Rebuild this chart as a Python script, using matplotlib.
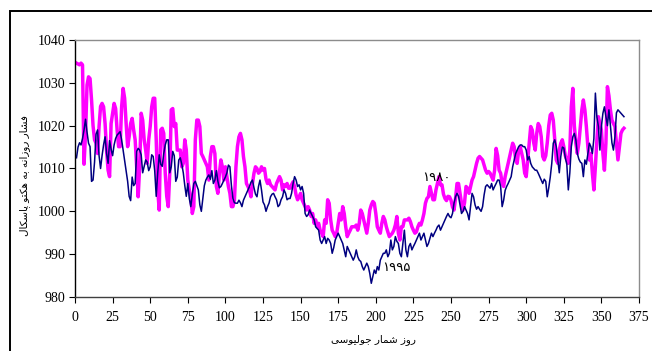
import numpy as np
import matplotlib
matplotlib.use("Agg")
import matplotlib.pyplot as plt
from matplotlib.patches import Rectangle

# daily mean pressure (hPa), day 1..365
p1980 = [
    1034.6, 1034.4, 1034.2, 1034.6, 1034.2, 1011.0, 1018.0, 1029.5, 1031.4, 1031.0,
    1026.0, 1020.0, 1016.7, 1015.9, 1013.5, 1019.8, 1024.5, 1025.2, 1024.4, 1020.5,
    1014.3, 1009.6, 1008.1, 1020.5, 1022.9, 1025.2, 1024.0, 1019.0, 1015.1, 1015.1,
    1024.4, 1028.7, 1026.4, 1020.5, 1015.1, 1017.4, 1020.5, 1021.7, 1019.0, 1016.7,
    1010.4, 1003.4, 1010.4, 1022.9, 1021.3, 1016.7, 1014.3, 1011.2, 1016.7, 1019.8,
    1024.4, 1026.4, 1026.4, 1016.7, 1005.0, 1000.3, 1019.0, 1019.4, 1018.2, 1008.9,
    1003.5, 1001.1, 1008.9, 1023.7, 1024.0, 1019.8, 1020.5, 1014.3, 1014.3, 1014.3,
    1010.4, 1011.2, 1016.7, 1014.3, 1007.3, 1005.0, 1003.4, 999.5, 1001.1, 1016.7,
    1021.3, 1021.3, 1019.8, 1013.5, 1012.8, 1012.0, 1011.2, 1010.4, 1007.3, 1012.8,
    1015.1, 1015.1, 1013.5, 1005.8, 1004.2, 1008.9, 1012.0, 1010.4, 1007.3, 1010.4,
    1008.1, 1005.8, 1004.2, 1001.1, 1001.1, 1002.6, 1010.4, 1015.1, 1017.4, 1018.2,
    1016.7, 1012.8, 1010.4, 1006.5, 1005.8, 1005.0, 1003.4, 1006.5, 1008.9, 1010.4,
    1010.0, 1008.9, 1009.3, 1010.4, 1009.6, 1010.0, 1007.5, 1006.5, 1007.3, 1006.2,
    1005.8, 1005.4, 1005.0, 1006.5, 1007.3, 1008.1, 1007.3, 1005.0, 1006.2, 1005.8,
    1006.5, 1005.4, 1005.4, 1006.2, 1006.9, 1005.8, 1003.8, 1002.7, 1003.4, 1004.2,
    1002.7, 1001.9, 1001.1, 1000.3, 1001.1, 1000.3, 998.8, 999.5, 997.2, 998.0,
    996.4, 997.2, 995.6, 994.9, 994.1, 998.0, 997.2, 1002.7, 1001.9, 998.0,
    995.6, 994.9, 994.1, 994.9, 997.2, 999.5, 998.0, 1001.1, 999.5, 996.4,
    994.1, 994.9, 995.6, 996.4, 996.4, 996.4, 996.8, 995.6, 997.2, 1000.3,
    999.5, 998.0, 996.4, 994.9, 997.2, 1000.3, 1001.5, 1002.3, 1001.9, 999.5,
    996.4, 995.6, 994.9, 997.2, 998.8, 998.0, 996.4, 995.2, 994.1, 994.5,
    994.9, 995.6, 996.8, 998.8, 994.9, 993.3, 996.4, 996.4, 998.0, 998.0,
    998.0, 998.4, 997.6, 996.4, 995.6, 994.9, 995.2, 996.4, 997.2, 996.8,
    998.0, 999.5, 1001.9, 1003.0, 1003.4, 1005.8, 1004.2, 1002.7, 1002.7, 1005.0,
    1006.5, 1008.1, 1006.2, 1006.2, 1004.0, 1003.0, 1002.5, 1003.5, 1003.4, 1002.6,
    1001.0, 1000.3, 1003.0, 1006.5, 1006.5, 1004.2, 1001.9, 1000.3, 1002.0, 1005.8,
    1005.4, 1004.2, 1005.8, 1007.3, 1008.1, 1009.6, 1011.2, 1012.4, 1012.8, 1012.4,
    1012.0, 1010.8, 1009.6, 1008.9, 1009.3, 1008.9, 1008.1, 1007.3, 1009.6, 1014.7,
    1013.0, 1009.6, 1008.9, 1006.5, 1005.8, 1008.1, 1009.6, 1011.2, 1012.8, 1014.3,
    1015.9, 1015.1, 1012.0, 1011.2, 1014.3, 1015.1, 1013.5, 1012.0, 1008.9, 1008.1,
    1012.0, 1015.9, 1019.8, 1019.0, 1016.0, 1014.3, 1018.2, 1020.5, 1019.8, 1017.4,
    1012.8, 1012.0, 1013.0, 1016.0, 1020.0, 1022.5, 1022.9, 1021.3, 1016.7, 1012.0,
    1011.2, 1014.3, 1015.9, 1016.7, 1015.1, 1013.0, 1012.0, 1011.2, 1014.3, 1024.4,
    1028.7, 1020.0, 1015.9, 1013.5, 1015.9, 1019.8, 1023.7, 1026.0, 1023.7, 1019.8,
    1015.1, 1012.0, 1013.5, 1008.9, 1005.0, 1010.4, 1016.7, 1022.1, 1020.5, 1019.0,
    1013.5, 1009.6, 1015.9, 1029.1, 1027.0, 1023.7, 1021.3, 1020.5, 1019.8, 1015.9,
    1012.0, 1015.1, 1018.2, 1019.0, 1019.4,
]

p1995 = [
    1012.5, 1015.0, 1016.0, 1015.5, 1017.0, 1019.0, 1021.5, 1018.5, 1015.9, 1015.1,
    1007.0, 1007.3, 1011.5, 1018.0, 1019.0, 1013.0, 1010.0, 1013.0, 1015.5, 1017.4,
    1013.5, 1011.2, 1016.5, 1014.5, 1013.0, 1015.5, 1017.0, 1017.8, 1018.2, 1018.6,
    1016.7, 1014.3, 1012.0, 1009.5, 1007.0, 1003.5, 1002.5, 1008.0, 1006.0, 1006.5,
    1014.0, 1014.7, 1014.3, 1013.2, 1009.0, 1010.5, 1012.0, 1011.5, 1009.5, 1010.4,
    1013.2, 1012.8, 1009.5, 1003.5, 1009.0, 1013.2, 1011.0, 1010.5, 1013.5, 1015.5,
    1016.7, 1016.7, 1009.0, 1010.4, 1014.0, 1013.0, 1007.0, 1008.0, 1012.0, 1012.5,
    1011.0, 1009.0, 1006.0, 1003.5, 1006.5, 1003.0, 1001.1, 1004.0, 1006.5, 1007.0,
    1006.0, 1005.0, 1001.5, 1000.0, 1003.0, 1006.0, 1007.3, 1008.0, 1008.5, 1007.5,
    1009.5, 1006.5, 1007.3, 1009.5, 1007.0, 1005.5, 1005.8, 1006.5, 1007.3, 1008.0,
    1009.0, 1010.8, 1010.4, 1006.0, 1003.0, 1002.0, 1001.9, 1001.9, 1002.6, 1002.0,
    1001.1, 1002.6, 1003.4, 1004.2, 1005.0, 1005.8, 1006.8, 1007.3, 1005.5, 1004.0,
    1003.4, 1005.8, 1007.3, 1005.0, 1002.2, 1001.5, 1000.0, 1001.1, 1001.9, 1003.4,
    1004.0, 1004.2, 1003.4, 1002.7, 1001.1, 1001.5, 1002.7, 1003.4, 1005.0, 1004.2,
    1002.7, 1003.0, 1003.0, 1004.2, 1006.5, 1008.1, 1007.3, 1005.8, 1006.2, 1005.0,
    1005.8, 1004.2, 999.5, 998.8, 999.2, 1000.3, 999.5, 998.8, 998.0, 996.4,
    996.0, 995.6, 993.3, 992.5, 993.3, 994.1, 992.5, 993.7, 993.3, 992.5,
    990.2, 991.5, 993.3, 994.1, 994.9, 994.1, 993.3, 992.5, 991.0, 989.4,
    991.8, 991.0, 990.2, 989.4, 988.6, 989.4, 991.0, 989.4, 988.6, 988.3,
    987.1, 986.3, 987.1, 987.9, 987.1, 985.5, 983.2, 984.8, 986.3, 985.5,
    987.1, 986.3, 988.6, 989.4, 990.2, 990.2, 991.0, 989.4, 990.2, 993.3,
    991.0, 991.8, 994.1, 993.0, 992.5, 990.2, 989.4, 992.5, 995.6, 991.0,
    989.4, 991.8, 992.5, 991.0, 991.8, 992.5, 993.3, 994.1, 994.9, 993.3,
    994.1, 994.9, 993.3, 991.8, 992.5, 993.7, 994.9, 994.1, 994.9, 995.6,
    996.4, 996.8, 995.6, 996.4, 997.2, 998.0, 998.8, 999.5, 998.8, 998.5,
    999.5, 1001.9, 1003.4, 1004.2, 1003.5, 1001.5, 999.5, 1000.0, 1001.1, 1000.3,
    999.5, 998.0, 1001.0, 1004.2, 1003.4, 1001.5, 1000.5, 1001.1, 1000.5, 1000.0,
    1001.1, 1003.8, 1005.8, 1006.2, 1005.8, 1005.4, 1006.5, 1005.0, 1005.8, 1006.5,
    1007.3, 1007.3, 1005.8, 1001.1, 1002.6, 1004.9, 1005.8, 1006.5, 1007.3, 1008.1,
    1010.4, 1012.0, 1013.5, 1014.3, 1015.1, 1015.5, 1015.5, 1015.1, 1015.1, 1014.3,
    1012.0, 1012.8, 1011.2, 1010.4, 1010.0, 1009.6, 1009.6, 1008.9, 1008.1, 1007.3,
    1006.5, 1007.5, 1007.0, 1003.4, 1005.5, 1008.0, 1011.2, 1015.9, 1016.7, 1015.1,
    1012.0, 1009.0, 1012.8, 1015.0, 1014.8, 1012.5, 1011.0, 1005.0, 1009.0, 1015.1,
    1017.4, 1018.2, 1016.7, 1013.5, 1012.2, 1011.5, 1011.2, 1008.1, 1012.0, 1011.0,
    1013.5, 1015.9, 1015.1, 1013.5, 1017.0, 1027.6, 1022.0, 1019.8, 1014.3, 1019.8,
    1022.9, 1024.4, 1022.1, 1020.0, 1023.7, 1020.0, 1016.0, 1014.3, 1017.4, 1023.0,
    1023.7, 1023.3, 1022.9, 1022.5, 1022.1,
]

days = np.arange(1, len(p1980) + 1)
x_ticks = np.arange(0, 376, 25)
y_ticks = np.arange(980, 1041, 10)

y_title = "فشار روزانه به هکتو پاسکال"
x_title = "روز شمار جولیوسی"
label_1980 = "۱۹۸۰"
label_1995 = "۱۹۹۵"

# presentation forms: isolated, final, initial, medial (None = joins only to the right)
FORMS = {
    "ا": ("\uFE8D", "\uFE8E", None, None),
    "ب": ("\uFE8F", "\uFE90", "\uFE91", "\uFE92"),
    "ت": ("\uFE95", "\uFE96", "\uFE97", "\uFE98"),
    "ج": ("\uFE9D", "\uFE9E", "\uFE9F", "\uFEA0"),
    "ر": ("\uFEAD", "\uFEAE", None, None),
    "ز": ("\uFEAF", "\uFEB0", None, None),
    "س": ("\uFEB1", "\uFEB2", "\uFEB3", "\uFEB4"),
    "ش": ("\uFEB5", "\uFEB6", "\uFEB7", "\uFEB8"),
    "ف": ("\uFED1", "\uFED2", "\uFED3", "\uFED4"),
    "ل": ("\uFEDD", "\uFEDE", "\uFEDF", "\uFEE0"),
    "م": ("\uFEE1", "\uFEE2", "\uFEE3", "\uFEE4"),
    "ن": ("\uFEE5", "\uFEE6", "\uFEE7", "\uFEE8"),
    "ه": ("\uFEE9", "\uFEEA", "\uFEEB", "\uFEEC"),
    "و": ("\uFEED", "\uFEEE", None, None),
    "پ": ("\uFB56", "\uFB57", "\uFB58", "\uFB59"),
    "ک": ("\uFB8E", "\uFB8F", "\uFB90", "\uFB91"),
    "ی": ("\uFBFC", "\uFBFD", "\uFBFE", "\uFBFF"),
}


def shape(text):
    # join letters and flip to visual order, since matplotlib lays text out left to right
    out = []
    for i, ch in enumerate(text):
        if ch not in FORMS:
            out.append(ch)
            continue
        prev = text[i - 1] if i > 0 else ""
        nxt = text[i + 1] if i + 1 < len(text) else ""
        join_prev = prev in FORMS and FORMS[prev][2] is not None
        join_next = nxt in FORMS and FORMS[ch][2] is not None
        isol, fin, ini, med = FORMS[ch]
        if join_prev and join_next:
            out.append(med)
        elif join_prev:
            out.append(fin)
        elif join_next:
            out.append(ini)
        else:
            out.append(isol)
    return "".join(out)[::-1]


fig = plt.figure(figsize=(6.52, 3.51), dpi=100, facecolor="white")
ax = fig.add_axes([75 / 652, 1 - 297 / 351, 564 / 652, 257 / 351])

ax.plot(days, p1980, color="#ff00ff", linewidth=2.5, solid_joinstyle="round")
ax.plot(days, p1995, color="#000080", linewidth=1.1)

ax.set_xlim(0, 375)
ax.set_ylim(980, 1040)
ax.set_xticks(x_ticks)
ax.set_yticks(y_ticks)

serif = "Liberation Serif"
for lab in ax.get_xticklabels() + ax.get_yticklabels():
    lab.set_fontfamily(serif)
    lab.set_fontsize(10)
ax.tick_params(axis="y", direction="out", length=4, width=0.8, pad=3)
ax.tick_params(axis="x", direction="out", length=4, width=0.8, pad=6)

ax.spines["left"].set_color("black")
ax.spines["bottom"].set_color("#404040")
ax.spines["top"].set_color("#8c8c8c")
ax.spines["right"].set_color("#8c8c8c")
for s in ax.spines.values():
    s.set_linewidth(1.0)

ax.text(240, 1007.8, label_1980, fontsize=9.5, family="DejaVu Sans",
        ha="center", va="center")
ax.text(214, 986.8, label_1995, fontsize=9.5, family="DejaVu Sans",
        ha="center", va="center")

fig.text(25 / 652, 1 - 176 / 351, shape(y_title), rotation=90, fontsize=7.5,
         family="DejaVu Sans", ha="center", va="center")
fig.text(373 / 652, 1 - 340 / 351, shape(x_title), fontsize=7.5,
         family="DejaVu Sans", ha="center", va="center")

# outer frame around the whole chart
fig.patches.append(Rectangle((10 / 652, -0.2), 1.2, 1.2 - 11 / 351,
                             transform=fig.transFigure, fill=False,
                             edgecolor="black", linewidth=1.4))

fig.savefig("out.png", dpi=100, facecolor="white")
